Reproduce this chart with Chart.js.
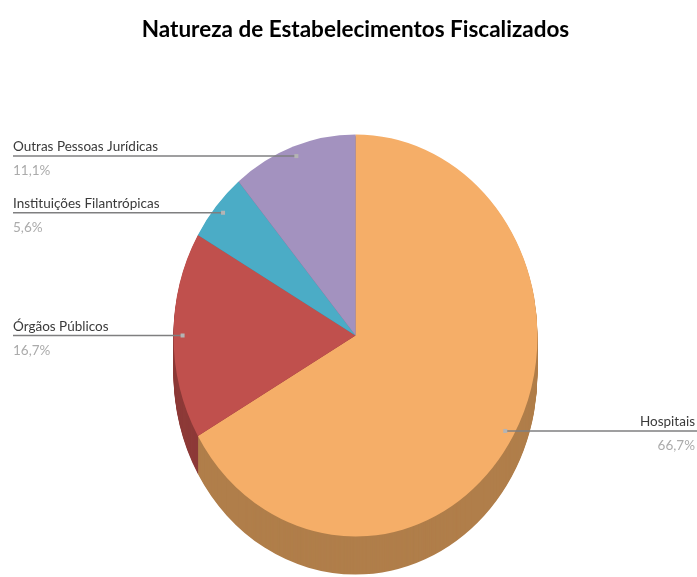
<!DOCTYPE html>
<html>
<head>
<meta charset="utf-8">
<script src="https://cdn.jsdelivr.net/npm/chart.js@4.4.0/dist/chart.umd.min.js"></script>
<style>
    html, body { margin: 0; padding: 0; background: #fff; }
    #wrap { width: 697px; height: 577px; }
</style>
</head>
<body>
<div id="wrap"><canvas id="pieChart"></canvas></div>
<script>
const labels = ["Hospitais", "Órgãos Públicos", "Instituições Filantrópicas", "Outras Pessoas Jurídicas"];
const counts = [12, 3, 1, 2];
const topColors = ["#F5AE68", "#C0504D", "#4BACC6", "#A392BF"];
const sideColors = ["#B07E4A", "#8D3A38", "#357D90", "#76698A"];

const tilt = 201 / 182;   // pie is a bit taller than wide
const depth = 38;         // height of the 3D side

const total = counts.reduce((a, b) => a + b, 0);
const pct = counts.map(v => (v / total * 100).toFixed(1).replace(".", ",") + "%");

// squash the pie vertically + draw a fake 3D side under it
const pie3d = {
    id: "pie3d",
    beforeDatasetsDraw(chart) {
        const ctx = chart.ctx;
        const arcs = chart.getDatasetMeta(0).data;
        for (let dy = depth; dy >= 1; dy--) {
            arcs.forEach((arc, i) => {
                const p = arc.getProps(["x", "y", "startAngle", "endAngle", "outerRadius"]);
                ctx.save();
                ctx.translate(p.x, p.y + dy);
                ctx.scale(1, tilt);
                ctx.beginPath();
                ctx.moveTo(0, 0);
                ctx.arc(0, 0, p.outerRadius, p.startAngle, p.endAngle);
                ctx.closePath();
                ctx.fillStyle = sideColors[i];
                ctx.fill();
                ctx.restore();
            });
        }
        const c = arcs[0];
        ctx.save();
        ctx.translate(c.x, c.y);
        ctx.scale(1, tilt);
        ctx.translate(-c.x, -c.y);
    },
    afterDatasetsDraw(chart) {
        const ctx = chart.ctx;
        ctx.restore();

        // leader lines + labels
        const arcs = chart.getDatasetMeta(0).data;
        const W = chart.width;
        arcs.forEach((arc, i) => {
            const p = arc.getProps(["x", "y", "startAngle", "endAngle", "outerRadius"]);
            const mid = (p.startAngle + p.endAngle) / 2;
            const ax = p.x + Math.cos(mid) * p.outerRadius * 0.95;
            const ay = p.y + Math.sin(mid) * p.outerRadius * 0.95 * tilt;
            const right = Math.cos(mid) > 0;

            ctx.save();
            ctx.strokeStyle = "#7F7F80";
            ctx.lineWidth = 1.5;
            ctx.beginPath();
            if (right) {
                ctx.moveTo(ax, ay);
                ctx.lineTo(W, ay);
            } else {
                ctx.moveTo(13, ay);
                ctx.lineTo(ax, ay);
            }
            ctx.stroke();
            ctx.fillStyle = "#B4B4B4";
            ctx.fillRect(ax - 2, ay - 2, 4, 4);

            ctx.font = "13.5px Lato";
            ctx.textAlign = right ? "right" : "left";
            const tx = right ? W - 2 : 13;
            ctx.fillStyle = "#3A3A3A";
            ctx.fillText(labels[i], tx, ay - 5);
            ctx.fillStyle = "#ABABAB";
            ctx.fillText(pct[i], tx, ay + 19);
            ctx.restore();
        });
    }
};

const pieChart = new Chart(document.getElementById("pieChart"), {
    type: "pie",
    data: {
        labels: labels,
        datasets: [
            {
                data: counts,
                backgroundColor: topColors,
                borderWidth: 0,
                hoverOffset: 0,
                radius: 182
            }
        ]
    },
    options: {
        responsive: true,
        maintainAspectRatio: false,
        animation: false,
        events: [],
        layout: {
            padding: { left: 14, right: 0, top: 6, bottom: 0 }
        },
        plugins: {
            legend: { display: false },
            tooltip: { enabled: false },
            title: {
                display: true,
                text: "Natureza de Estabelecimentos Fiscalizados",
                color: "#000",
                font: { family: "Lato", size: 22.5, weight: "bold" },
                padding: { top: 10, bottom: 51 }
            }
        }
    },
    plugins: [pie3d]
});
</script>
</body>
</html>
